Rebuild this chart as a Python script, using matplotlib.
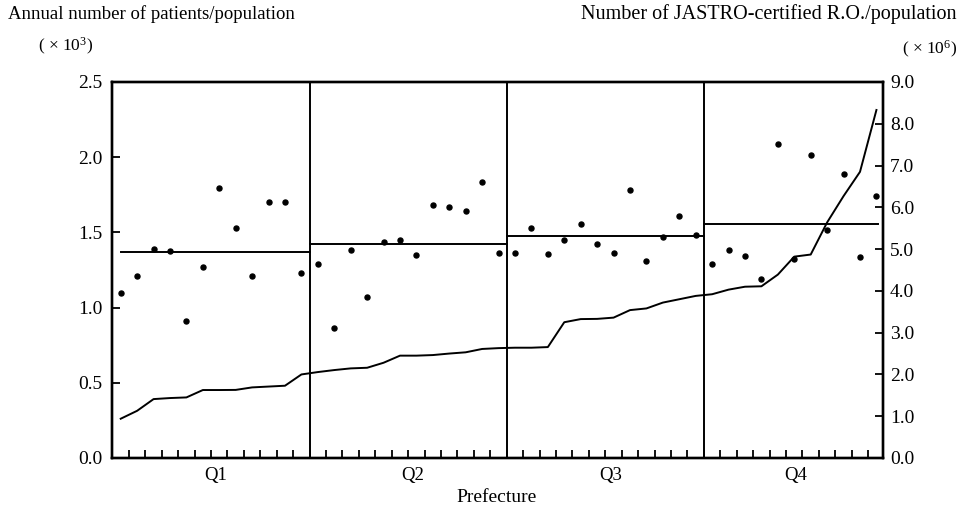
import numpy as np
import matplotlib
matplotlib.use("Agg")
import matplotlib.pyplot as plt

plt.rcParams['font.family'] = ['Liberation Serif', 'DejaVu Serif']
plt.rcParams['mathtext.fontset'] = 'custom'
plt.rcParams['mathtext.rm'] = 'Liberation Serif'
plt.rcParams['mathtext.it'] = 'Liberation Serif'

# Annual number of patients / population (x10^3), prefectures ordered by R.O. density
patients = [1.095, 1.212, 1.390, 1.374, 0.913, 1.272, 1.795, 1.531, 1.210, 1.700, 1.700, 1.232,
            1.288, 0.864, 1.385, 1.073, 1.434, 1.449, 1.347, 1.680, 1.669, 1.645, 1.833, 1.365,
            1.361, 1.531, 1.358, 1.449, 1.556, 1.423, 1.361, 1.780, 1.310, 1.467, 1.611, 1.483,
            1.292, 1.383, 1.345, 1.188, 2.088, 1.321, 2.015, 1.514, 1.890, 1.336, 1.744]
# Number of JASTRO-certified R.O. / population (x10^6)
ro_density = [0.94, 1.13, 1.41, 1.435, 1.45, 1.627, 1.627, 1.63, 1.69, 1.71, 1.73, 2.00,
              2.057, 2.105, 2.145, 2.16, 2.28, 2.45, 2.45, 2.464, 2.50, 2.53, 2.61, 2.63,
              2.64, 2.64, 2.655, 3.25, 3.325, 3.33, 3.36, 3.54, 3.58, 3.72, 3.80, 3.88,
              3.92, 4.03, 4.10, 4.11, 4.39, 4.82, 4.87, 5.64, 6.27, 6.85, 8.33]
quartile_labels = ['Q1', 'Q2', 'Q3', 'Q4']
quartile_sizes = [12, 12, 12, 11]
quartile_means = [1.37, 1.42, 1.475, 1.556]
left_ticks = [0.0, 0.5, 1.0, 1.5, 2.0, 2.5]
right_ticks = [0.0, 1.0, 2.0, 3.0, 4.0, 5.0, 6.0, 7.0, 8.0, 9.0]

n = len(patients)
x = np.arange(n)
bounds = np.cumsum(quartile_sizes)  # 12, 24, 36, 47

fig = plt.figure(figsize=(9.63, 5.18), dpi=100)
ax = fig.add_axes([112/963, 1-458/518, (883-112)/963, (458-82)/518])
ax2 = ax.twinx()

ax.set_xlim(-0.53, n - 0.6)
ax.set_ylim(0, 2.5)
ax2.set_ylim(0, 9.0)

# dots
ax.plot(x, patients, linestyle='none', marker='o', ms=3.6, color='black', zorder=3)
# R.O. line
ax2.plot(x, ro_density, color='black', lw=1.4)

# quartile dividers and means
starts = [0.0] + [b - 0.5 for b in bounds[:-1]]
ends = [b - 0.5 for b in bounds[:-1]] + [n - 0.9]
for b in bounds[:-1]:
    ax.axvline(b - 0.5, color='black', lw=1.4)
for s, e, m in zip(starts, ends, quartile_means):
    ax.plot([s, e], [m, m], color='black', lw=1.4)

# ticks
ax.set_yticks(left_ticks)
ax.set_yticklabels([f"{v:.1f}" for v in left_ticks])
ax2.set_yticks(right_ticks)
ax2.set_yticklabels([f"{v:.1f}" for v in right_ticks])
ax.set_xticks(np.arange(n - 1) + 0.5)
ax.set_xticklabels([])
ax.tick_params(axis='x', direction='in', length=6, width=1.3)
ax.tick_params(axis='y', direction='in', length=6, width=1.3, labelsize=14, pad=7)
ax2.tick_params(axis='y', direction='in', length=6, width=1.3, labelsize=14, pad=5)
for a in (ax, ax2):
    for sp in a.spines.values():
        sp.set_linewidth(1.7)

# quartile labels
centers = [(s + e) / 2 for s, e in zip([-0.53] + list(starts[1:]), ends)]
for c, lab in zip(centers, quartile_labels):
    ax.text(c + 0.3, -0.046, lab, transform=ax.get_xaxis_transform(), ha='center', va='center', fontsize=13.5)

fig.text(497/963, 1-497/518, 'Prefecture', ha='center', va='center', fontsize=14)
fig.text(8/963, 1-14/518, 'Annual number of patients/population', ha='left', va='center', fontsize=13.5)
fig.text(66/963, 1-46/518, r'( × 10$^{3}$)', ha='center', va='center', fontsize=12.5)
fig.text(956/963, 1-14/518, 'Number of JASTRO-certified R.O./population', ha='right', va='center', fontsize=14.5)
fig.text(930/963, 1-49/518, r'( × 10$^{6}$)', ha='center', va='center', fontsize=12.5)

fig.savefig('out.png', dpi=100)
